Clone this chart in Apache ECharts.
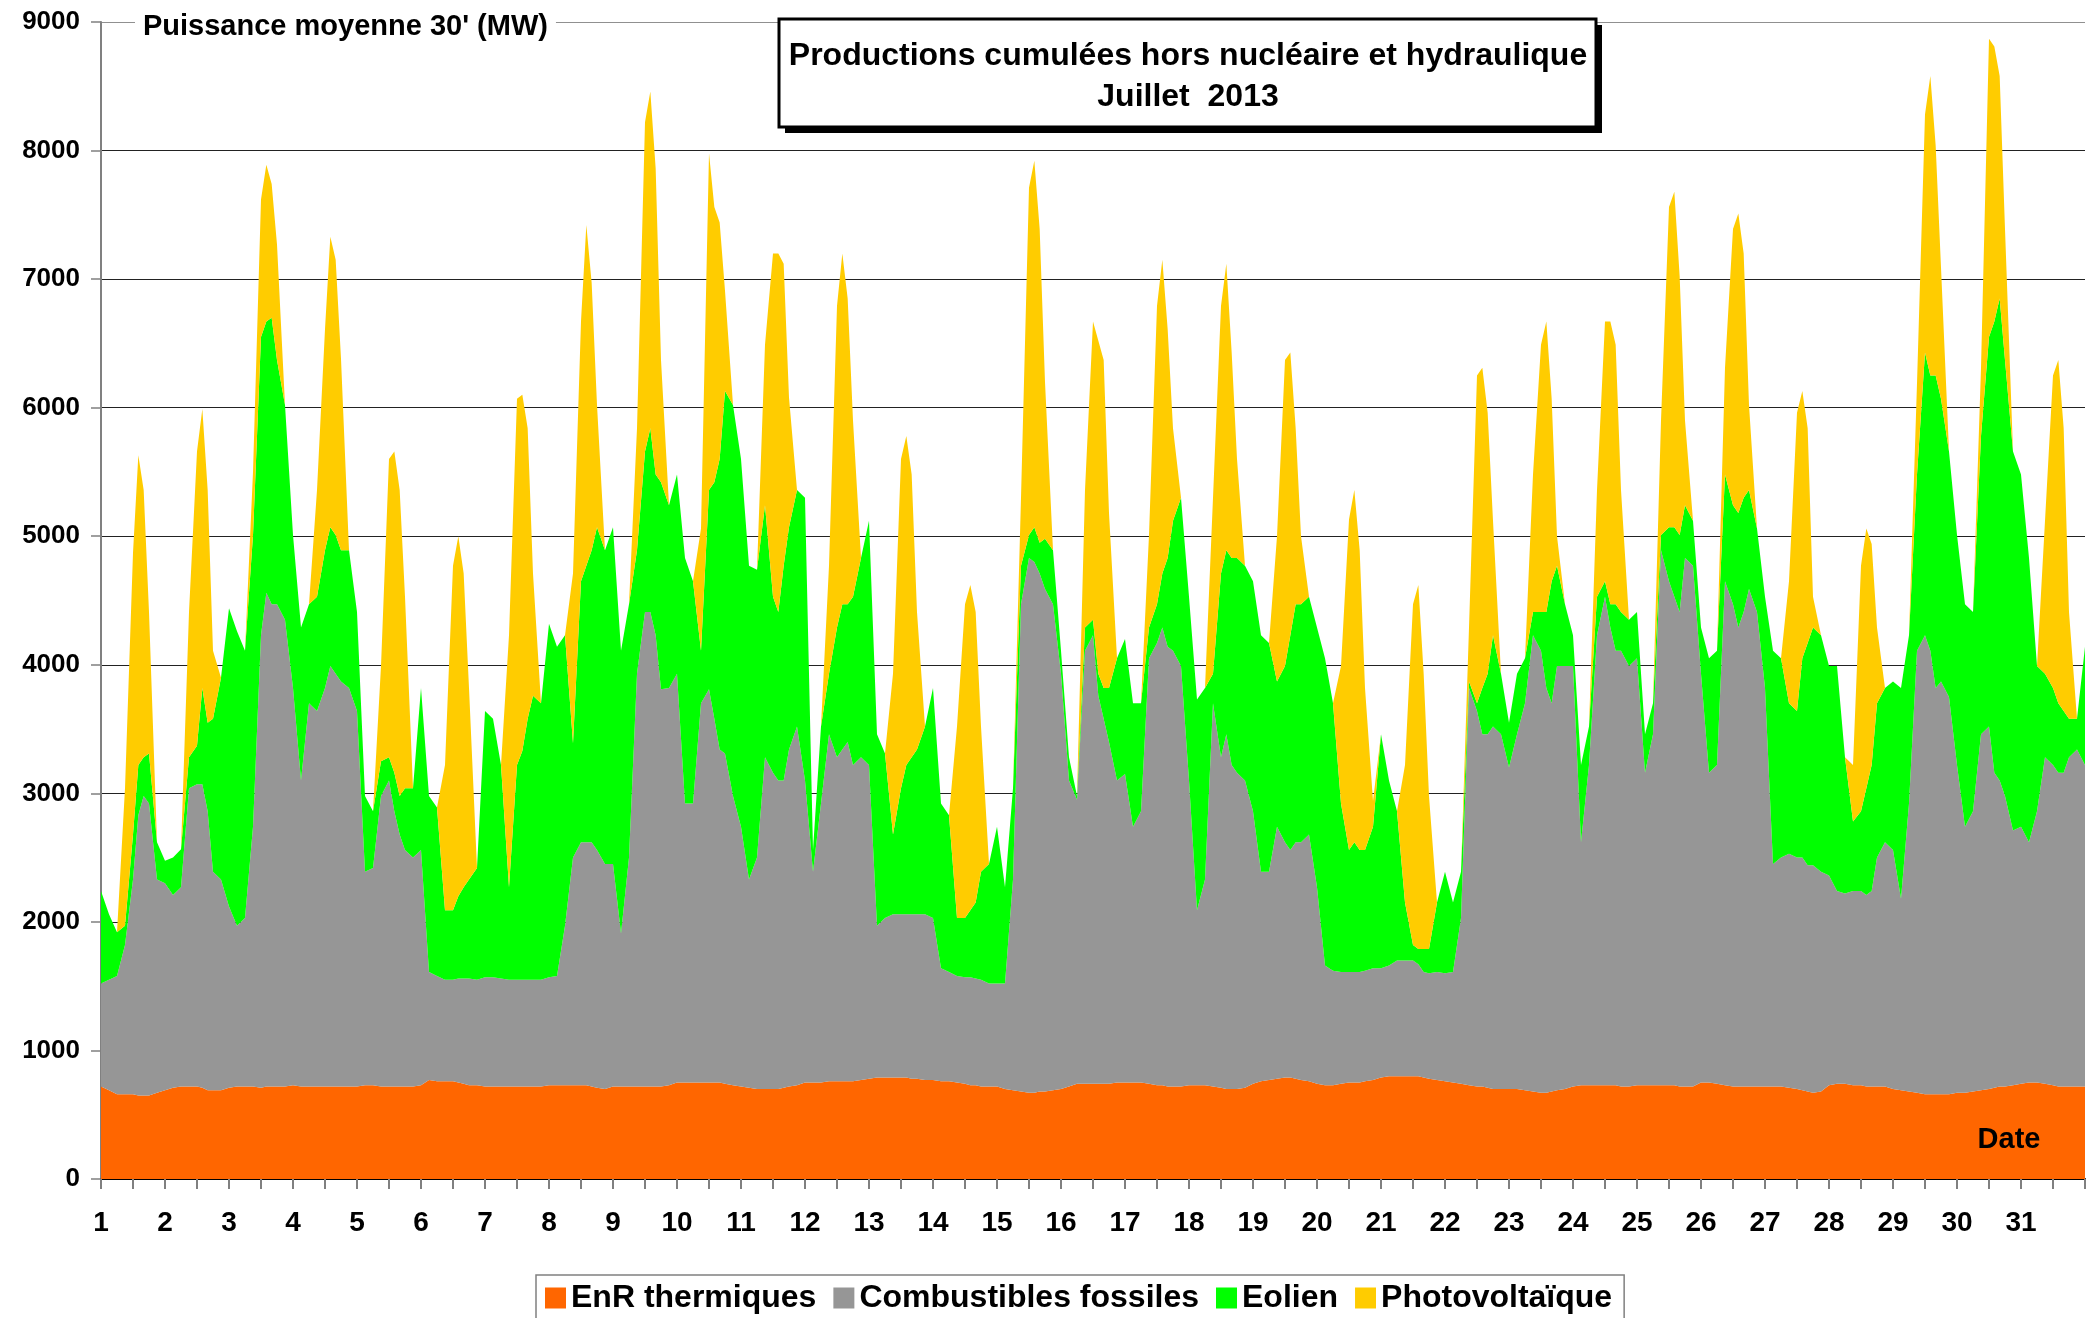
<!DOCTYPE html>
<html>
<head>
<meta charset="utf-8">
<title>Productions cumulées hors nucléaire et hydraulique - Juillet 2013</title>
<script src="https://cdn.jsdelivr.net/npm/echarts@6/dist/echarts.min.js"></script>
<style>
  html, body { margin: 0; padding: 0; background: #fff; }
  #chart { width: 2098px; height: 1318px; }
</style>
</head>
<body>
<div id="chart"></div>
<script>
// jours du mois (étiquettes de l'axe X)
const days = [1, 2, 3, 4, 5, 6, 7, 8, 9, 10, 11, 12, 13, 14, 15, 16,
  17, 18, 19, 20, 21, 22, 23, 24, 25, 26, 27, 28, 29, 30, 31];
// heures relevées dans chaque journée (dernier point : 1er août 0h)
const hours = [0, 3, 6, 9, 12, 14, 16, 18, 21];
const yTicks = [0, 1000, 2000, 3000, 4000, 5000, 6000, 7000, 8000, 9000];

// puissances en MW, une ligne par jour
const enrThermiques = [
  720, 690, 660, 660, 660, 650, 650, 650, 670,
  690, 710, 720, 720, 720, 710, 690, 690, 690,
  710, 720, 720, 720, 710, 720, 720, 720, 720,
  730, 720, 720, 720, 720, 720, 720, 720, 720,
  720, 730, 730, 720, 720, 720, 720, 720, 720,
  730, 770, 760, 760, 760, 750, 740, 730, 730,
  720, 720, 720, 720, 720, 720, 720, 720, 720,
  730, 730, 730, 730, 730, 730, 720, 710, 700,
  720, 720, 720, 720, 720, 720, 720, 720, 730,
  750, 750, 750, 750, 750, 750, 750, 740, 730,
  720, 710, 700, 700, 700, 700, 710, 720, 730,
  750, 750, 750, 760, 760, 760, 760, 760, 770,
  780, 790, 790, 790, 790, 790, 780, 780, 770,
  770, 760, 760, 750, 740, 730, 730, 720, 720,
  720, 700, 690, 680, 670, 670, 680, 680, 690,
  700, 720, 740, 740, 740, 740, 740, 740, 750,
  750, 750, 750, 740, 730, 730, 720, 720, 720,
  730, 730, 730, 720, 710, 700, 700, 700, 710,
  740, 760, 770, 780, 790, 790, 780, 770, 760,
  740, 730, 730, 740, 750, 750, 750, 760, 770,
  790, 800, 800, 800, 800, 800, 790, 780, 770,
  760, 750, 740, 730, 720, 720, 710, 700, 700,
  700, 700, 690, 680, 670, 670, 680, 690, 700,
  720, 730, 730, 730, 730, 730, 730, 720, 720,
  730, 730, 730, 730, 730, 730, 720, 720, 720,
  750, 750, 740, 730, 720, 720, 720, 720, 720,
  720, 720, 720, 710, 700, 690, 680, 670, 680,
  730, 740, 740, 730, 730, 720, 720, 720, 720,
  700, 690, 680, 670, 660, 660, 660, 660, 660,
  670, 670, 680, 690, 700, 710, 720, 720, 730,
  740, 750, 750, 740, 730, 720, 720, 720, 720,
  720
];

const combustiblesFossiles = [
  800, 860, 920, 1160, 1670, 2180, 2330, 2270, 1660,
  1610, 1500, 1550, 2320, 2350, 2360, 2170, 1700, 1640,
  1410, 1250, 1310, 2020, 3520, 3840, 3750, 3750, 3630,
  3090, 2380, 2980, 2920, 3100, 3270, 3210, 3150, 3100,
  2920, 1660, 1690, 2260, 2380, 2140, 1960, 1840, 1780,
  1830, 840, 820, 790, 790, 810, 820, 830, 820,
  850, 850, 840, 830, 830, 830, 830, 830, 830,
  840, 850, 1240, 1770, 1890, 1890, 1900, 1850, 1750,
  1730, 1190, 1780, 3210, 3690, 3690, 3510, 3090, 3090,
  3180, 2170, 2170, 2950, 3060, 2830, 2590, 2570, 2250,
  2020, 1620, 1800, 2580, 2460, 2400, 2390, 2620, 2790,
  2350, 1640, 2170, 2700, 2520, 2580, 2640, 2460, 2510,
  2440, 1180, 1240, 1270, 1270, 1270, 1280, 1280, 1290,
  1260, 880, 850, 830, 830, 840, 830, 830, 800,
  800, 820, 1640, 3790, 4160, 4130, 4030, 3910, 3780,
  3230, 2380, 2210, 3370, 3490, 3020, 2840, 2660, 2350,
  2400, 1990, 2110, 3310, 3440, 3560, 3420, 3390, 3270,
  2370, 1360, 1600, 2980, 2570, 2760, 2520, 2460, 2390,
  2120, 1630, 1620, 1960, 1830, 1770, 1840, 1850, 1920,
  1530, 930, 890, 870, 860, 860, 860, 860, 870,
  850, 860, 900, 900, 900, 870, 820, 820, 840,
  840, 860, 1290, 3090, 2920, 2740, 2750, 2820, 2760,
  2500, 2760, 3010, 3550, 3440, 3150, 3020, 3300, 3290,
  3270, 1890, 2490, 3500, 3800, 3560, 3380, 3390, 3270,
  3320, 2430, 2730, 4160, 3920, 3800, 3690, 4110, 4050,
  3180, 2410, 2480, 3920, 3750, 3570, 3690, 3870, 3690,
  3100, 1730, 1780, 1820, 1800, 1810, 1760, 1770, 1710,
  1630, 1500, 1480, 1510, 1510, 1490, 1520, 1780, 1900,
  1860, 1490, 2240, 3440, 3570, 3450, 3160, 3210, 3090,
  2550, 2070, 2180, 2770, 2820, 2450, 2380, 2260, 1980,
  2000, 1870, 2110, 2540, 2490, 2440, 2440, 2560, 2620,
  2500
];

const eolien = [
  720, 510, 340, 150, 350, 390, 300, 390, 290,
  175, 290, 295, 240, 300, 750, 690, 1190, 1570,
  2320, 2290, 2080, 2270, 2320, 2110, 2230, 1900, 1670,
  1190, 1190, 770, 890, 1070, 1080, 1080, 1020, 1070,
  770, 590, 440, 270, 180, 300, 300, 480, 540,
  1260, 1370, 1310, 540, 540, 640, 710, 770, 870,
  2070, 2010, 1660, 720, 1670, 1780, 2030, 2210, 2150,
  2750, 2560, 2260, 890, 2030, 2150, 2270, 2510, 2440,
  2620, 2200, 1970, 960, 1250, 1430, 1250, 1610, 1420,
  1550, 1910, 1730, 410, 1550, 1840, 2260, 2820, 3040,
  2860, 2440, 2240, 1960, 1370, 1310, 1670, 1730, 1840,
  2200, 170, 600, 470, 1010, 1130, 1070, 1310, 1550,
  1900, 1490, 1280, 620, 980, 1160, 1220, 1280, 1460,
  1790, 1280, 1220, 450, 460, 520, 590, 840, 930,
  1220, 750, 710, 300, 180, 270, 240, 390, 420,
  180, 180, 30, 180, 120, 170, 240, 420, 950,
  1050, 960, 840, 240, 300, 420, 690, 1010, 1310,
  1430, 1640, 1490, 230, 1430, 1430, 1610, 1670, 1670,
  1790, 1840, 1780, 1130, 1370, 1670, 1850, 1850, 1850,
  2020, 2390, 2080, 1310, 950, 1010, 950, 940, 1100,
  1820, 1440, 1160, 450, 120, 120, 180, 190, 540,
  790, 540, 360, 50, 60, 360, 470, 710, 470,
  350, 470, 350, 180, 300, 590, 950, 780, 480,
  240, 600, 300, 300, 120, 180, 360, 300, 360,
  360, 300, 240, 120, 420, 540, 600, 410, 350,
  360, 890, 890, 830, 770, 890, 890, 770, 650,
  710, 1660, 1550, 1170, 1140, 1550, 1730, 1850, 1840,
  1630, 1750, 1060, 540, 620, 830, 980, 1200, 1200,
  1310, 1640, 1310, 1370, 2200, 2140, 2430, 2200, 1910,
  1790, 1730, 1550, 2320, 3030, 3510, 3750, 3390, 2950,
  2740, 2210, 1130, 650, 600, 540, 480, 300, 240,
  920
];

const photovoltaique = [
  0, 0, 0, 1070, 2190, 2410, 2080, 1100, 0,
  0, 0, 0, 1130, 2290, 2170, 1810, 530, 0,
  0, 0, 0, 490, 1070, 1220, 1040, 900, 0,
  0, 0, 0, 830, 1720, 2260, 2140, 1490, 0,
  0, 0, 0, 740, 2320, 2500, 2380, 1490, 0,
  0, 0, 0, 1130, 2680, 2800, 2440, 1490, 0,
  0, 0, 0, 1960, 2850, 2770, 2260, 950, 0,
  0, 0, 0, 1320, 2020, 2650, 2080, 950, 0,
  0, 0, 0, 950, 2560, 2620, 2380, 950, 0,
  0, 0, 0, 950, 2620, 2140, 1840, 780, 0,
  0, 0, 0, 1250, 2670, 2790, 2350, 1010, 0,
  0, 0, 0, 840, 2500, 2730, 2380, 1370, 0,
  0, 0, 0, 1250, 2560, 2560, 2200, 1070, 0,
  0, 0, 0, 1490, 2440, 2530, 2260, 1130, 0,
  0, 0, 0, 530, 2700, 2850, 2440, 1220, 0,
  0, 0, 0, 1070, 2320, 2590, 2550, 1360, 0,
  0, 0, 0, 720, 2320, 2440, 1780, 720, 0,
  0, 0, 0, 1370, 2080, 2230, 1600, 770, 0,
  0, 0, 0, 1130, 2380, 2200, 1370, 530, 0,
  0, 0, 0, 1070, 2570, 2740, 2330, 1260, 200,
  0, 0, 0, 1070, 2650, 2830, 2140, 1190, 0,
  0, 0, 0, 420, 2550, 2490, 2030, 890, 0,
  0, 0, 0, 1070, 2080, 2260, 1420, 230, 0,
  0, 0, 0, 830, 2020, 2200, 2020, 950, 0,
  0, 0, 0, 890, 2490, 2610, 2010, 660, 0,
  0, 0, 0, 830, 2150, 2330, 1900, 660, 0,
  0, 0, 0, 950, 2320, 2080, 1670, 240, 0,
  0, 0, 0, 440, 1910, 2020, 1720, 590, 0,
  0, 0, 0, 710, 1850, 2330, 1790, 1020, 0,
  0, 0, 0, 530, 2320, 2140, 1730, 1020, 0,
  0, 0, 0, 1190, 2430, 2670, 2200, 830, 0,
  0
];

// abscisse en jours : jour + heure/24
const xs = [];
days.forEach(d => hours.forEach(h => xs.push(d + h / 24)));
xs.push(days[days.length - 1] + 1);

const FONT = '"Liberation Sans", Arial, sans-serif';

// la valeur en 1re colonne pour que l'empilement se fasse sur Y
function serie(name, values, color) {
  return {
    name: name,
    type: 'line',
    stack: 'total',
    data: values.map((v, i) => [v, xs[i]]),
    encode: { x: 1, y: 0 },
    symbol: 'none',
    showSymbol: false,
    lineStyle: { width: 0 },
    itemStyle: { color: color },
    areaStyle: { color: color, opacity: 1 },
    emphasis: { disabled: true },
    silent: true
  };
}

const chart = echarts.init(document.getElementById('chart'));

chart.setOption({
  animation: false,
  backgroundColor: '#fff',
  grid: { left: 101, right: 13, top: 22, bottom: 139, outerBoundsMode: 'none' },
  xAxis: {
    type: 'value',
    min: 1,
    max: 32,
    interval: 1,
    axisLine: { show: true, onZero: false, lineStyle: { color: '#000', width: 2 } },
    axisTick: { show: true, length: 10, lineStyle: { color: '#808080', width: 2 } },
    minorTick: { show: true, splitNumber: 2, length: 10, lineStyle: { color: '#808080', width: 2 } },
    splitLine: { show: false },
    axisLabel: {
      margin: 30,
      fontSize: 28,
      fontWeight: 'bold',
      fontFamily: FONT,
      color: '#000',
      formatter: v => (v >= 1 && v <= days.length) ? String(days[v - 1]) : ''
    }
  },
  yAxis: {
    type: 'value',
    min: yTicks[0],
    max: yTicks[yTicks.length - 1],
    interval: 1000,
    axisLine: { show: true, lineStyle: { color: '#808080', width: 2 } },
    axisTick: { show: true, length: 10, lineStyle: { color: '#808080', width: 1.5 } },
    splitLine: {
      show: true,
      lineStyle: {
        color: ['#000', '#222', '#222', '#222', '#222', '#222', '#222', '#222', '#222', '#909090'],
        width: 1.2
      }
    },
    axisLabel: {
      margin: 21,
      fontSize: 26,
      fontWeight: 'bold',
      fontFamily: FONT,
      color: '#000',
      formatter: v => String(v)
    }
  },
  legend: {
    left: 536,
    top: 1275,
    orient: 'horizontal',
    icon: 'rect',
    itemWidth: 21,
    itemHeight: 21,
    itemGap: 17,
    padding: [7, 12, 30, 9],
    borderColor: '#808080',
    borderWidth: 1.5,
    selectedMode: false,
    textStyle: { fontSize: 32, fontWeight: 'bold', fontFamily: FONT, color: '#000' },
    data: ['EnR thermiques', 'Combustibles fossiles', 'Eolien', 'Photovoltaïque']
  },
  graphic: [
    // cadre du titre avec ombre portée
    { type: 'rect', z: 100, shape: { x: 785, y: 25, width: 817, height: 108 }, style: { fill: '#000' } },
    { type: 'rect', z: 101, shape: { x: 779, y: 19, width: 817, height: 108 }, style: { fill: '#fff', stroke: '#000', lineWidth: 3 } },
    {
      type: 'text', z: 102, x: 1188, y: 56,
      style: { text: 'Productions cumulées hors nucléaire et hydraulique', font: 'bold 32px ' + FONT, fill: '#000', align: 'center', verticalAlign: 'middle' }
    },
    {
      type: 'text', z: 102, x: 1188, y: 97,
      style: { text: 'Juillet  2013', font: 'bold 32px ' + FONT, fill: '#000', align: 'center', verticalAlign: 'middle' }
    },
    {
      type: 'text', z: 102, x: 135, y: 27,
      style: { text: "Puissance moyenne 30' (MW)", font: 'bold 29px ' + FONT, fill: '#000', verticalAlign: 'middle', backgroundColor: '#fff', padding: [2, 8] }
    },
    {
      type: 'text', z: 102, x: 2009, y: 1140,
      style: { text: 'Date', font: 'bold 29px ' + FONT, fill: '#000', align: 'center', verticalAlign: 'middle' }
    }
  ],
  series: [
    serie('EnR thermiques', enrThermiques, '#FF6600'),
    serie('Combustibles fossiles', combustiblesFossiles, '#969696'),
    serie('Eolien', eolien, '#00FF00'),
    serie('Photovoltaïque', photovoltaique, '#FFCC00')
  ]
});
</script>
</body>
</html>
